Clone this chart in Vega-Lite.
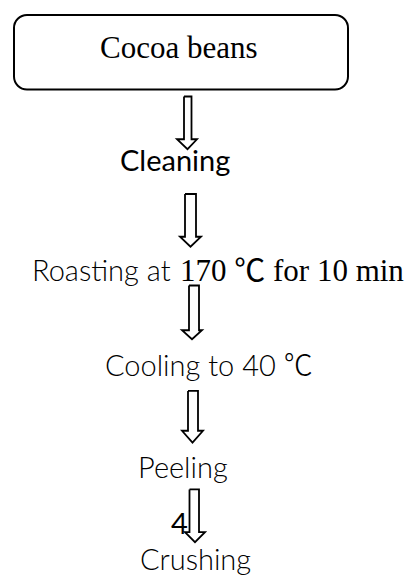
{
  "$schema": "https://vega.github.io/schema/vega-lite/v6.json",
  "width": 406,
  "height": 576,
  "padding": 0,
  "autosize": {"type": "fit", "contains": "padding"},
  "background": "white",
  "config": {"view": {"stroke": null}},
  "datasets": {
    "box": [{"x": 14, "x2": 348, "y": 15, "y2": 90}],
    "arrows": [
      {"arrow": 1, "o": 1, "x": 184, "y": 97},
      {"arrow": 1, "o": 2, "x": 184, "y": 140},
      {"arrow": 1, "o": 3, "x": 177, "y": 140},
      {"arrow": 1, "o": 4, "x": 187.5, "y": 150},
      {"arrow": 1, "o": 5, "x": 197, "y": 140},
      {"arrow": 1, "o": 6, "x": 191.5, "y": 140},
      {"arrow": 1, "o": 7, "x": 191.5, "y": 97},
      {"arrow": 1, "o": 8, "x": 184, "y": 97},
      {"arrow": 2, "o": 1, "x": 185, "y": 195},
      {"arrow": 2, "o": 2, "x": 185, "y": 238},
      {"arrow": 2, "o": 3, "x": 180, "y": 238},
      {"arrow": 2, "o": 4, "x": 190.5, "y": 248},
      {"arrow": 2, "o": 5, "x": 201, "y": 238},
      {"arrow": 2, "o": 6, "x": 196, "y": 238},
      {"arrow": 2, "o": 7, "x": 196, "y": 195},
      {"arrow": 2, "o": 8, "x": 185, "y": 195},
      {"arrow": 3, "o": 1, "x": 189, "y": 287},
      {"arrow": 3, "o": 2, "x": 189, "y": 332},
      {"arrow": 3, "o": 3, "x": 182, "y": 332},
      {"arrow": 3, "o": 4, "x": 192, "y": 341},
      {"arrow": 3, "o": 5, "x": 202, "y": 332},
      {"arrow": 3, "o": 6, "x": 199, "y": 332},
      {"arrow": 3, "o": 7, "x": 199, "y": 287},
      {"arrow": 3, "o": 8, "x": 189, "y": 287},
      {"arrow": 4, "o": 1, "x": 188, "y": 393},
      {"arrow": 4, "o": 2, "x": 188, "y": 433},
      {"arrow": 4, "o": 3, "x": 182, "y": 433},
      {"arrow": 4, "o": 4, "x": 192.5, "y": 445},
      {"arrow": 4, "o": 5, "x": 203, "y": 433},
      {"arrow": 4, "o": 6, "x": 198, "y": 433},
      {"arrow": 4, "o": 7, "x": 198, "y": 393},
      {"arrow": 4, "o": 8, "x": 188, "y": 393},
      {"arrow": 5, "o": 1, "x": 189.5, "y": 492},
      {"arrow": 5, "o": 2, "x": 189.5, "y": 535},
      {"arrow": 5, "o": 3, "x": 185, "y": 535},
      {"arrow": 5, "o": 4, "x": 195, "y": 545},
      {"arrow": 5, "o": 5, "x": 205, "y": 535},
      {"arrow": 5, "o": 6, "x": 199, "y": 535},
      {"arrow": 5, "o": 7, "x": 199, "y": 492},
      {"arrow": 5, "o": 8, "x": 189.5, "y": 492}
    ],
    "serif": [
      {"label": "Cocoa beans", "x": 100, "y": 58},
      {"label": "170 ℃ for 10 min", "x": 180, "y": 282}
    ],
    "sansRegular": [
      {"label": "Cleaning", "x": 120, "y": 172},
      {"label": "4", "x": 171, "y": 537}
    ],
    "sansLight": [
      {"label": "Roasting at", "x": 32, "y": 282},
      {"label": "Cooling to 40 ℃", "x": 105, "y": 378},
      {"label": "Peeling", "x": 138, "y": 480},
      {"label": "Crushing", "x": 140, "y": 573}
    ]
  },
  "layer": [
    {
      "data": {"name": "box"},
      "mark": {"type": "rect", "fill": "white", "stroke": "black", "strokeWidth": 2, "cornerRadius": 13},
      "encoding": {
        "x": {"field": "x", "type": "quantitative", "scale": {"domain": [0, 406], "nice": false, "zero": false}, "axis": null},
        "x2": {"field": "x2"},
        "y": {"field": "y", "type": "quantitative", "scale": {"domain": [0, 576], "nice": false, "zero": false, "reverse": true}, "axis": null},
        "y2": {"field": "y2"}
      }
    },
    {
      "data": {"name": "arrows"},
      "mark": {"type": "line", "stroke": "black", "strokeWidth": 1.8, "strokeJoin": "miter"},
      "encoding": {
        "x": {"field": "x", "type": "quantitative", "axis": null},
        "y": {"field": "y", "type": "quantitative", "axis": null},
        "detail": {"field": "arrow", "type": "nominal"},
        "order": {"field": "o", "type": "quantitative"}
      }
    },
    {
      "data": {"name": "serif"},
      "mark": {"type": "text", "font": "Liberation Serif, 'Noto Sans CJK SC'", "fontSize": 31, "align": "left", "baseline": "alphabetic", "color": "black"},
      "encoding": {
        "x": {"field": "x", "type": "quantitative", "axis": null},
        "y": {"field": "y", "type": "quantitative", "axis": null},
        "text": {"field": "label"}
      }
    },
    {
      "data": {"name": "sansRegular"},
      "mark": {"type": "text", "font": "Lato", "fontSize": 29, "fontWeight": 400, "align": "left", "baseline": "alphabetic", "color": "black"},
      "encoding": {
        "x": {"field": "x", "type": "quantitative", "axis": null},
        "y": {"field": "y", "type": "quantitative", "axis": null},
        "text": {"field": "label"}
      }
    },
    {
      "data": {"name": "sansLight"},
      "mark": {"type": "text", "font": "Lato, 'Noto Sans CJK SC'", "fontSize": 29, "fontWeight": 300, "align": "left", "baseline": "alphabetic", "color": "black"},
      "encoding": {
        "x": {"field": "x", "type": "quantitative", "axis": null},
        "y": {"field": "y", "type": "quantitative", "axis": null},
        "text": {"field": "label"}
      }
    }
  ]
}
